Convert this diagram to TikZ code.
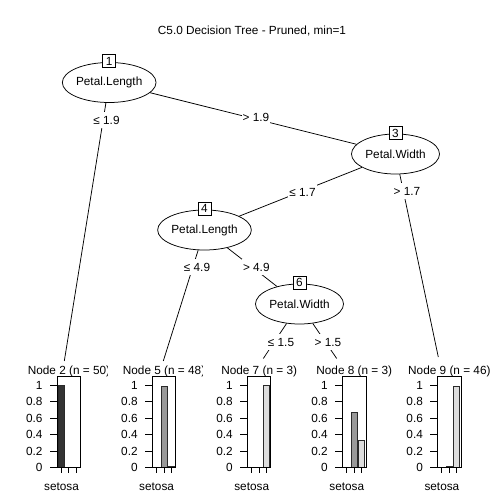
\documentclass[tikz,border=0pt]{standalone}
\usepackage{fontspec}
\setmainfont{Liberation Sans}
\usetikzlibrary{shapes.geometric}
\definecolor{cSet}{HTML}{333333}
\definecolor{cVer}{HTML}{999999}
\definecolor{cVir}{HTML}{DDDDDD}
\definecolor{cBarline}{HTML}{2A2A2A}
\begin{document}
\begin{tikzpicture}[x=1pt,y=-1pt,
  txt/.style={font=\fontsize{11.8}{14}\selectfont, inner sep=0pt},
  split/.style={ellipse, draw, fill=white, minimum width=88pt, minimum height=40pt,
    inner sep=0pt, line width=0.75pt, font=\fontsize{11.8}{14}\selectfont},
  idbox/.style={rectangle, draw, fill=white, minimum size=13pt, inner sep=0pt,
    line width=0.75pt, font=\fontsize{11.8}{14}\selectfont},
  edgeline/.style={line width=0.75pt},
  elabel/.style={fill=white, inner xsep=1pt, inner ysep=4pt, font=\fontsize{11.8}{14}\selectfont},
  panelbox/.style={draw, line width=0.75pt},
  tickline/.style={line width=0.75pt},
  barbox/.style={draw=cBarline, line width=0.75pt}
]
\useasboundingbox (0,0) rectangle (504,504);

% title
\node[txt, anchor=base] (title) at (252,34.5) {C5.0 Decision Tree - Pruned, min=1};

% inner nodes
\node[split] (n1) at (109.2,82.5) {Petal.Length};
\node[split] (n3) at (395.5,154) {Petal.Width};
\node[split] (n4) at (204.5,230) {Petal.Length};
\node[split] (n6) at (299.5,304) {Petal.Width};

% edge end points at the leaves
\coordinate (e2) at (64.3,361);
\coordinate (e5) at (163.3,361);
\coordinate (e7) at (263.3,358.5);
\coordinate (e8) at (336.7,358.5);
\coordinate (e9) at (438.3,357);

% edges
\draw[edgeline] (n1) -- (e2);
\draw[edgeline] (n1) -- (n3);
\draw[edgeline] (n3) -- (n4);
\draw[edgeline] (n3) -- (e9);
\draw[edgeline] (n4) -- (e5);
\draw[edgeline] (n4) -- (n6);
\draw[edgeline] (n6) -- (e7);
\draw[edgeline] (n6) -- (e8);

% id boxes
\node[idbox] (b1) at (109.2,61) {1};
\node[idbox] (b3) at (395.5,133) {3};
\node[idbox] (b4) at (204.5,208.5) {4};
\node[idbox] (b6) at (299.5,282.5) {6};

% edge labels
\node[elabel] (l12) at (106.5,120) {≤ 1.9};
\node[elabel] (l13) at (256,117.3) {> 1.9};
\node[elabel] (l34) at (302.5,192) {≤ 1.7};
\node[elabel] (l39) at (407,191) {> 1.7};
\node[elabel] (l45) at (197,267.3) {≤ 4.9};
\node[elabel] (l46) at (256.3,267.3) {> 4.9};
\node[elabel] (l67) at (281,342) {≤ 1.5};
\node[elabel] (l68) at (328,342) {> 1.5};

% leaf panels
\foreach \id/\n/\L/\a/\b/\c/\clipx in {
  2/50/57.3/1/0/0/107.3,
  5/48/152.4/0/0.979/0.021/202.4,
  7/3/247.5/0/0/1/300,
  8/3/342.6/0/0.667/0.333/395,
  9/46/437.7/0/0.022/0.978/504}{
  \begin{scope}
    \clip ({\L-60},355) rectangle (\clipx,380);
    \node[txt, anchor=base] (t\id) at ({\L+11.65},374.5) {Node \id\ (n = \n)};
  \end{scope}
  % bars
  \ifdim \a pt>0pt
    \draw[barbox, fill=cSet] ({\L+1},467.7) rectangle ({\L+7},{467.7-82.7*\a});
  \fi
  \ifdim \b pt>0pt
    \draw[barbox, fill=cVer] ({\L+8.5},467.7) rectangle ({\L+14.5},{467.7-82.7*\b});
  \fi
  \ifdim \c pt>0pt
    \draw[barbox, fill=cVir] ({\L+16},467.7) rectangle ({\L+22},{467.7-82.7*\c});
  \fi
  % frame
  \draw[panelbox] (\L,376) rectangle ({\L+23.3},467.7);
  % y axis ticks and labels
  \foreach \v in {0,0.2,0.4,0.6,0.8,1}{
    \draw[tickline] ({\L-7.3},{467.7-82.7*\v}) -- (\L,{467.7-82.7*\v});
    \node[txt, anchor=east] at ({\L-14.6},{467.7-82.7*\v}) {\v};
  }
  % x ticks
  \foreach \dx in {4,11.5,19}{
    \draw[tickline] ({\L+\dx},467.7) -- ({\L+\dx},472.7);
  }
  \node[txt, anchor=base] (s\id) at ({\L+4.2},490.7) {setosa};
}
\end{tikzpicture}
\end{document}
